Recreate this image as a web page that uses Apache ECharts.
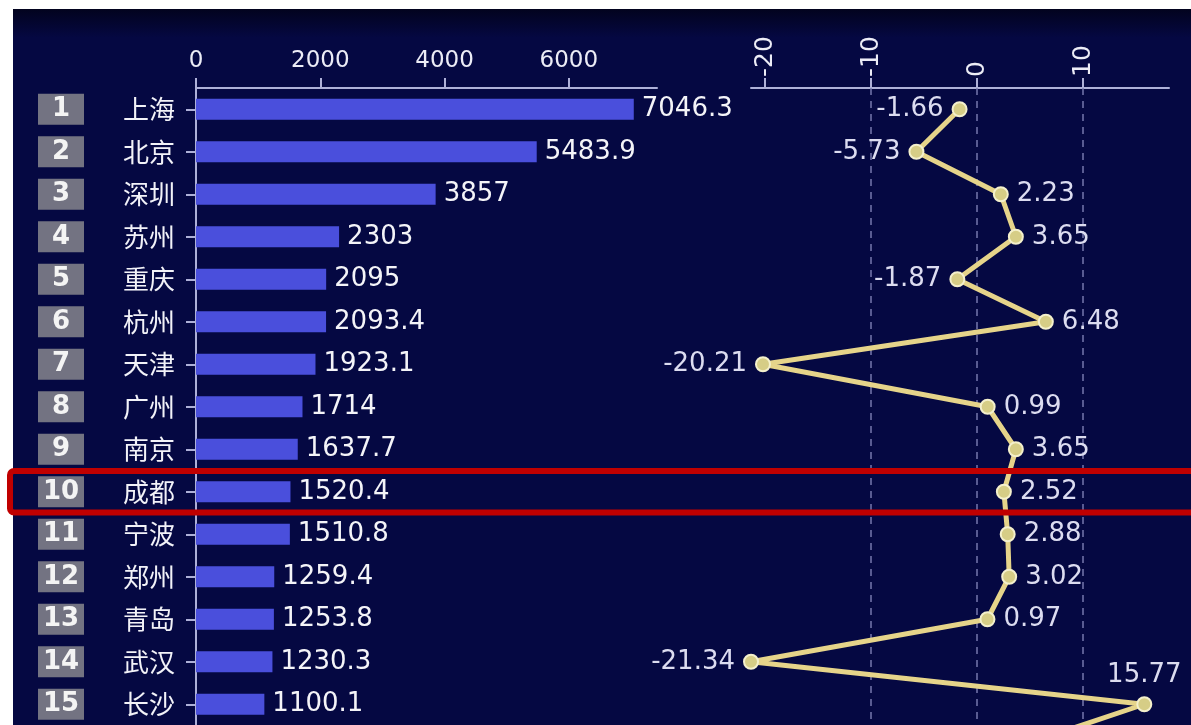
<!DOCTYPE html>
<html>
<head>
<meta charset="utf-8">
<script src="https://cdn.jsdelivr.net/npm/echarts@6/dist/echarts.min.js"></script>
<style>
html,body{margin:0;padding:0;background:#ffffff;}
#c{width:1191px;height:725px;}
</style>
</head>
<body>
<div id="c"></div>
<script>
// ---- data ----
const cities = ['上海','北京','深圳','苏州','重庆','杭州','天津','广州','南京','成都','宁波','郑州','青岛','武汉','长沙','无锡'];
const ranks = ['1','2','3','4','5','6','7','8','9','10','11','12','13','14','15','16'];
const revenue = [7046.3,5483.9,3857,2303,2095,2093.4,1923.1,1714,1637.7,1520.4,1510.8,1259.4,1253.8,1230.3,1100.1,1075.7];
const growth = [-1.66,-5.73,2.23,3.65,-1.87,6.48,-20.21,0.99,3.65,2.52,2.88,3.02,0.97,-21.34,15.77,3.8];
const revenueTicks = [0,2000,4000,6000];
const growthTicks = [-20,-10,0,10];
const highlightCity = '成都';

// ---- styles ----
const NUM_FONT = '"DejaVu Sans", "Noto Sans CJK SC", sans-serif';
const CJK_FONT = '"Noto Sans CJK SC", sans-serif';
const AXIS_COLOR = '#aeb0d8';
const BG = '#050842';

const growthMax = Math.max.apply(null, growth);
const lineData = growth.map(v => ({
  value: v,
  label: { position: v === growthMax ? 'top' : (v < 0 ? 'left' : 'right') }
}));

const chart = echarts.init(document.getElementById('c'));

const bgRect = {
  id: 'bg', type: 'rect', z: -100, silent: true,
  shape: { x: 13, y: 9, width: 1178, height: 716 },
  style: { fill: { type: 'linear', x: 0, y: 0, x2: 0, y2: 1,
    colorStops: [{offset: 0, color: '#02031e'}, {offset: 0.04, color: BG}, {offset: 1, color: BG}] } }
};

const option = {
  backgroundColor: '#ffffff',
  animation: false,
  graphic: { elements: [bgRect] },
  grid: [
    { left: 196, top: 88, width: 461, height: 680, containLabel: false, outerBoundsMode: 'none' },
    { left: 751, top: 88, width: 418, height: 680, containLabel: false, outerBoundsMode: 'none' }
  ],
  xAxis: [
    {
      type: 'value', gridIndex: 0, position: 'top', min: 0, max: 7420,
      axisLine: { show: true, lineStyle: { color: AXIS_COLOR, width: 2 } },
      axisTick: { show: true, length: 10, customValues: revenueTicks, lineStyle: { color: AXIS_COLOR, width: 2 } },
      axisLabel: { customValues: revenueTicks, formatter: v => String(v), color: '#ececf6', fontSize: 23, fontFamily: NUM_FONT, margin: 15 },
      splitLine: { show: false }
    },
    {
      type: 'value', gridIndex: 1, position: 'top', min: -21.34, max: 18.1,
      axisLine: { show: true, onZero: false, lineStyle: { color: AXIS_COLOR, width: 2 } },
      axisTick: { show: true, length: 10, customValues: growthTicks, lineStyle: { color: AXIS_COLOR, width: 2 } },
      axisLabel: { customValues: growthTicks, formatter: v => String(v), rotate: -90, color: '#ececf6', fontSize: 25, fontFamily: NUM_FONT, margin: 11 },
      splitLine: { show: false }
    }
  ],
  yAxis: [
    {
      type: 'category', gridIndex: 0, data: cities, inverse: true,
      axisLine: { show: true, lineStyle: { color: AXIS_COLOR, width: 2 } },
      axisTick: { show: true, alignWithLabel: true, length: 10, lineStyle: { color: AXIS_COLOR, width: 2 } },
      axisLabel: { color: '#f2f2f8', fontSize: 26, fontFamily: CJK_FONT, margin: 21 }
    },
    {
      type: 'category', gridIndex: 0, data: ranks, inverse: true, position: 'left',
      axisLine: { show: false }, axisTick: { show: false },
      axisLabel: {
        margin: 112,
        formatter: v => '{r|' + v + '}',
        rich: {
          r: { width: 46, height: 31, lineHeight: 31, align: 'center', backgroundColor: '#737382',
               color: '#f4f4f4', fontSize: 26, fontWeight: 'bold', fontFamily: NUM_FONT }
        }
      }
    },
    {
      type: 'category', gridIndex: 1, data: cities, inverse: true,
      axisLine: { show: false }, axisTick: { show: false }, axisLabel: { show: false }, splitLine: { show: false }
    }
  ],
  series: [
    {
      type: 'bar', xAxisIndex: 0, yAxisIndex: 0, data: revenue, barWidth: 21,
      itemStyle: { color: '#4a4fdc' },
      label: { show: true, position: 'right', distance: 8, color: '#f4f4f8', fontSize: 26, fontFamily: NUM_FONT }
    },
    {
      type: 'line', xAxisIndex: 1, yAxisIndex: 2, data: growth, z: 1, silent: true,
      symbol: 'none', lineStyle: { opacity: 0 },
      markLine: {
        silent: true, symbol: ['none', 'none'], label: { show: false },
        lineStyle: { type: [7, 6], color: '#7577ad', width: 1.5 },
        data: growthTicks.filter(t => t > -20).map(t => ({ xAxis: t }))
      }
    },
    {
      type: 'line', xAxisIndex: 1, yAxisIndex: 2, data: lineData, z: 5,
      symbol: 'circle', symbolSize: 14,
      lineStyle: { color: '#e6d48a', width: 5 },
      itemStyle: { color: '#d6cd86', borderColor: '#f4f0cc', borderWidth: 2 },
      label: { show: true, distance: 8, color: '#dcdcf0', fontSize: 26, fontFamily: NUM_FONT }
    }
  ]
};

chart.setOption(option);

const yc = chart.convertToPixel({ yAxisIndex: 0 }, highlightCity);
chart.setOption({
  graphic: { elements: [bgRect, {
    id: 'hl', type: 'rect', z: 100, silent: true,
    shape: { x: 10, y: yc - 20.75, width: 1200, height: 41.5, r: 4 },
    style: { fill: 'none', stroke: '#c00000', lineWidth: 6 }
  }] }
});
</script>
</body>
</html>
